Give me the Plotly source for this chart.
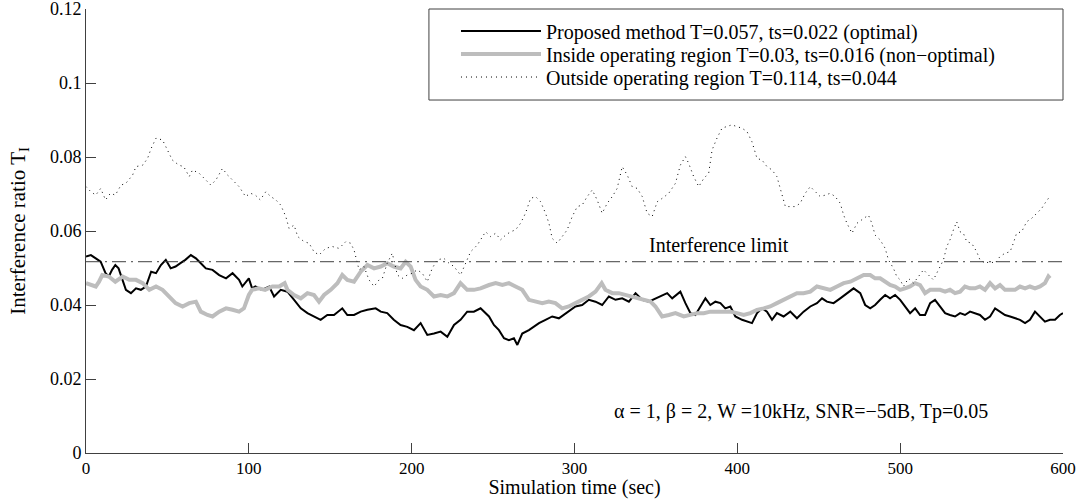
import plotly.graph_objects as go

# Proposed method (black)
prop_x = [0, 3, 6, 9, 12, 14, 16, 18, 20, 22.5, 24.5, 27.6, 30.7, 33.7, 36.8, 40, 43, 46, 49, 52,
          55, 58, 61, 64.4, 67.5, 70.5, 73.6, 77.7, 81.8, 86, 90, 94, 96, 100, 102, 104, 108, 112.5,
          115.5, 119.6, 123.7, 127.8, 131.9, 136, 140, 144.1, 148.2, 152.3, 157.4, 160.5, 164.6,
          168.7, 172.8, 177.9, 181, 185, 189, 193.2, 197.3, 201.4, 205.5, 209.6, 213.7, 217.8,
          221.9, 226, 230, 234.1, 238.2, 242.3, 247.5, 250.5, 253.6, 256.7, 259.7, 262.8, 264.9,
          267.9, 272, 275.1, 278.2, 282.2, 286.3, 290.4, 293.5, 296.6, 300.6, 304.7, 308.8, 312.9,
          317, 321.1, 325.2, 329.3, 333.4, 337.5, 341.5, 345.6, 349.7, 353.8, 356.9, 360, 365,
          368.1, 371.2, 374.2, 377.3, 380.4, 383.4, 386.5, 389.6, 392.6, 395.7, 398.8, 402.9, 406,
          409, 412.1, 415.2, 418.2, 421.3, 424.3, 428.4, 432.5, 436.6, 440.7, 444.8, 448.9, 452,
          455, 459.1, 463.2, 467.3, 471.4, 475.5, 478.5, 481.6, 484.6, 487.7, 490.8, 493.8, 496.9,
          500, 503, 506.1, 509.2, 512.2, 515.3, 518.4, 521.4, 524.5, 527.6, 530.6, 533.7, 536.8,
          539.8, 542.9, 546, 549, 552.1, 555.2, 558.3, 561.3, 564.4, 567.5, 570.5, 573.6, 576.7,
          579.7, 582.8, 585.9, 588.9, 592, 595.1, 598.1, 600]
prop_y = [0.0531, 0.0535, 0.0526, 0.0517, 0.0486, 0.0477, 0.0495, 0.0508, 0.0499, 0.0468, 0.0441,
          0.0432, 0.0445, 0.0441, 0.0450, 0.0490, 0.0486, 0.0508, 0.0522, 0.0499, 0.0504, 0.0513,
          0.0522, 0.0535, 0.0526, 0.0513, 0.0499, 0.0495, 0.0481, 0.0472, 0.0486, 0.0468, 0.0450,
          0.0472, 0.0445, 0.0450, 0.0441, 0.0450, 0.0423, 0.0441, 0.0436, 0.0414, 0.0391, 0.0378,
          0.0369, 0.0360, 0.0373, 0.0373, 0.0391, 0.0373, 0.0373, 0.0382, 0.0387, 0.0391, 0.0382,
          0.0378, 0.0360, 0.0346, 0.0341, 0.0332, 0.0351, 0.0319, 0.0323, 0.0328, 0.0314, 0.0346,
          0.0360, 0.0382, 0.0382, 0.0391, 0.0369, 0.0346, 0.0332, 0.0310, 0.0305, 0.0310, 0.0292,
          0.0323, 0.0332, 0.0341, 0.0351, 0.0360, 0.0369, 0.0364, 0.0373, 0.0382, 0.0396, 0.0400,
          0.0414, 0.0409, 0.0400, 0.0423, 0.0414, 0.0418, 0.0409, 0.0432, 0.0414, 0.0409, 0.0418,
          0.0427, 0.0432, 0.0418, 0.0436, 0.0405, 0.0378, 0.0373, 0.0396, 0.0418, 0.0400, 0.0409,
          0.0405, 0.0391, 0.0396, 0.0369, 0.0360, 0.0355, 0.0351, 0.0378, 0.0391, 0.0382, 0.0360,
          0.0378, 0.0369, 0.0382, 0.0364, 0.0382, 0.0396, 0.0405, 0.0418, 0.0409, 0.0405, 0.0418,
          0.0432, 0.0445, 0.0432, 0.0400, 0.0391, 0.0400, 0.0414, 0.0427, 0.0418, 0.0427, 0.0414,
          0.0396, 0.0378, 0.0391, 0.0373, 0.0373, 0.0405, 0.0414, 0.0396, 0.0378, 0.0373, 0.0369,
          0.0378, 0.0373, 0.0382, 0.0378, 0.0373, 0.0360, 0.0369, 0.0391, 0.0382, 0.0373, 0.0369,
          0.0364, 0.0360, 0.0351, 0.0360, 0.0382, 0.0369, 0.0355, 0.0360, 0.0360, 0.0373, 0.0378]

# Inside operating region (grey)
ins_x = [0, 3, 6, 8, 10, 14, 18, 22.5, 26.6, 30.7, 34.8, 38.9, 43, 47, 51, 55, 59.3, 63.4, 67.5,
         70.5, 74.6, 77.7, 81.8, 86, 90, 94, 97, 100, 102, 106, 110, 114.5, 118.6, 122, 123.7,
         127.8, 131.9, 136, 140, 143.1, 146.2, 150.3, 154.4, 157.4, 160.5, 164.6, 168.7, 172.8,
         176.9, 181, 185, 189, 193.2, 196.3, 199.4, 202.4, 205.5, 209.6, 213.7, 217.8, 221.9, 226,
         230, 234.1, 238.2, 242.3, 247.5, 251.6, 255.7, 259.7, 263.8, 267.9, 272, 276.1, 280.2,
         284.2, 288.3, 292.4, 296.5, 300.6, 304.7, 308.8, 312.9, 316.7, 319, 323.2, 327.2, 331.3,
         335.4, 339.5, 343.6, 346.7, 349.7, 353.8, 357.9, 362, 367.1, 371.2, 375.3, 379.4, 383.4,
         387.5, 391.6, 395.7, 399.8, 403.9, 408, 412.1, 416.2, 420.2, 424.3, 428.4, 432.5, 436.6,
         440.7, 444.8, 448.9, 453, 457.1, 461.2, 465.3, 469.4, 473.5, 477.6, 481.6, 484.6, 487.7,
         490.8, 493.8, 496.9, 500, 503, 506.1, 509.2, 512.2, 515.3, 518.4, 521.4, 524.5, 527.6,
         530.6, 533.7, 536.8, 539.8, 542.9, 546, 549, 552.1, 555.2, 558.3, 561.3, 564.4, 567.5,
         570.5, 573.6, 576.7, 579.7, 582.8, 585.9, 588.9, 591, 592]
ins_y = [0.0459, 0.0454, 0.0450, 0.0463, 0.0481, 0.0477, 0.0463, 0.0477, 0.0468, 0.0468, 0.0459,
         0.0441, 0.0450, 0.0441, 0.0423, 0.0405, 0.0396, 0.0405, 0.0409, 0.0382, 0.0373, 0.0369,
         0.0382, 0.0391, 0.0387, 0.0382, 0.0391, 0.0427, 0.0441, 0.0445, 0.0441, 0.0450, 0.0450,
         0.0459, 0.0441, 0.0427, 0.0418, 0.0432, 0.0427, 0.0409, 0.0427, 0.0441, 0.0459, 0.0481,
         0.0468, 0.0463, 0.0490, 0.0508, 0.0499, 0.0504, 0.0513, 0.0504, 0.0499, 0.0517, 0.0504,
         0.0468, 0.0450, 0.0441, 0.0423, 0.0427, 0.0423, 0.0432, 0.0459, 0.0441, 0.0441, 0.0445,
         0.0454, 0.0459, 0.0454, 0.0459, 0.0450, 0.0441, 0.0414, 0.0409, 0.0405, 0.0409, 0.0405,
         0.0391, 0.0396, 0.0405, 0.0414, 0.0423, 0.0436, 0.0459, 0.0441, 0.0432, 0.0432, 0.0427,
         0.0423, 0.0418, 0.0414, 0.0409, 0.0396, 0.0369, 0.0373, 0.0378, 0.0369, 0.0373, 0.0378,
         0.0378, 0.0382, 0.0382, 0.0382, 0.0382, 0.0378, 0.0373, 0.0378, 0.0387, 0.0391, 0.0396,
         0.0405, 0.0414, 0.0423, 0.0432, 0.0432, 0.0436, 0.0450, 0.0445, 0.0441, 0.0450, 0.0459,
         0.0463, 0.0472, 0.0481, 0.0481, 0.0472, 0.0472, 0.0463, 0.0454, 0.0450, 0.0441, 0.0445,
         0.0450, 0.0459, 0.0454, 0.0432, 0.0441, 0.0441, 0.0441, 0.0436, 0.0441, 0.0432, 0.0436,
         0.0450, 0.0445, 0.0445, 0.0450, 0.0441, 0.0459, 0.0445, 0.0454, 0.0441, 0.0441, 0.0441,
         0.0450, 0.0445, 0.0450, 0.0445, 0.0450, 0.0459, 0.0477, 0.0472]

# Outside operating region (dotted)
out_x = [0, 3, 6, 9, 12, 15, 18, 21.5, 24.5, 28.6, 30.7, 34.8, 37.8, 40, 43, 47, 50, 53, 57, 60,
         63.4, 65.4, 69.5, 73.6, 76.7, 79.8, 83.8, 87, 90, 94, 98, 101, 104, 107, 110.4, 113.5,
         116.6, 119.6, 122.7, 124.7, 127.8, 130, 134, 137, 140, 143.1, 147.2, 151.3, 155.4, 159.5,
         162.5, 164.6, 167.7, 170.7, 173.8, 176.9, 180, 182, 185, 188.1, 191.2, 194.2, 197.3,
         200.4, 203.4, 206.5, 209.6, 212.6, 215.7, 219.8, 222.9, 226, 230, 233.1, 236.2, 240.3,
         242.4, 245.4, 248.5, 251.6, 254.6, 257.7, 260.8, 263.8, 266.9, 269.9, 273, 276.1, 279.2,
         282.2, 284.3, 286.3, 289.4, 292.5, 295.5, 298.6, 301.7, 304.7, 307.8, 310.9, 313.9, 317,
         320.1, 323.2, 326.2, 329.3, 332.4, 335.4, 338.5, 341.6, 344.6, 347.7, 350.8, 353.8,
         357.9, 362, 365, 368.1, 370.1, 373.2, 376.3, 379.4, 382.4, 384.5, 387.5, 390.6, 393.7,
         396.7, 399.8, 402.8, 405.9, 409, 412.1, 415.1, 418.2, 421.3, 424.3, 426.4, 429.5, 432.5,
         435.6, 438.6, 441.7, 444.8, 447.8, 450.9, 454, 457.1, 460.1, 463.2, 465.3, 467.3, 470.4,
         473.5, 477.6, 480.5, 482.6, 484.6, 487.7, 490.8, 492.8, 495.9, 497.9, 500, 502, 505.1,
         508.2, 511.2, 514.3, 517.4, 520.4, 523.5, 526.6, 528.6, 530.6, 532.7, 534.7, 536.8,
         538.8, 540.9, 543.9, 547, 549, 552.1, 555.2, 558.3, 561.3, 564.4, 567.5, 569.5, 571.5,
         574.6, 577.7, 580.7, 583.8, 586.9, 588.9, 591]
out_y = [0.0720, 0.0706, 0.0697, 0.0715, 0.0684, 0.0702, 0.0697, 0.0724, 0.0729, 0.0751, 0.0774,
         0.0778, 0.0796, 0.0823, 0.0851, 0.0846, 0.0819, 0.0792, 0.0778, 0.0774, 0.0747, 0.0765,
         0.0756, 0.0738, 0.0724, 0.0738, 0.0769, 0.0751, 0.0738, 0.0720, 0.0693, 0.0702, 0.0697,
         0.0684, 0.0706, 0.0693, 0.0684, 0.0670, 0.0639, 0.0607, 0.0616, 0.0585, 0.0571, 0.0567,
         0.0544, 0.0535, 0.0553, 0.0558, 0.0553, 0.0571, 0.0567, 0.0549, 0.0495, 0.0504, 0.0468,
         0.0450, 0.0468, 0.0472, 0.0513, 0.0540, 0.0481, 0.0472, 0.0481, 0.0486, 0.0495, 0.0486,
         0.0463, 0.0499, 0.0522, 0.0526, 0.0513, 0.0504, 0.0481, 0.0513, 0.0544, 0.0562, 0.0576,
         0.0598, 0.0585, 0.0594, 0.0576, 0.0589, 0.0598, 0.0603, 0.0621, 0.0648, 0.0688, 0.0693,
         0.0679, 0.0648, 0.0621, 0.0580, 0.0567, 0.0585, 0.0603, 0.0639, 0.0666, 0.0670, 0.0693,
         0.0711, 0.0684, 0.0648, 0.0675, 0.0693, 0.0715, 0.0774, 0.0751, 0.0720, 0.0715, 0.0693,
         0.0648, 0.0639, 0.0679, 0.0688, 0.0702, 0.0729, 0.0778, 0.0801, 0.0783, 0.0747, 0.0720,
         0.0742, 0.0756, 0.0819, 0.0851, 0.0878, 0.0882, 0.0887, 0.0882, 0.0878, 0.0869, 0.0841,
         0.0796, 0.0792, 0.0774, 0.0765, 0.0747, 0.0715, 0.0666, 0.0666, 0.0666, 0.0675, 0.0702,
         0.0720, 0.0706, 0.0693, 0.0697, 0.0702, 0.0693, 0.0675, 0.0643, 0.0621, 0.0594, 0.0621,
         0.0634, 0.0643, 0.0621, 0.0589, 0.0576, 0.0553, 0.0522, 0.0499, 0.0477, 0.0468, 0.0450,
         0.0472, 0.0459, 0.0477, 0.0495, 0.0481, 0.0468, 0.0495, 0.0522, 0.0558, 0.0576, 0.0603,
         0.0625, 0.0598, 0.0594, 0.0571, 0.0567, 0.0544, 0.0522, 0.0513, 0.0517, 0.0513, 0.0531,
         0.0540, 0.0544, 0.0567, 0.0594, 0.0598, 0.0625, 0.0634, 0.0648, 0.0661, 0.0675, 0.0688]

interference_limit = 0.0517

y_ticks = [0, 0.02, 0.04, 0.06, 0.08, 0.1, 0.12]
y_tick_text = ["0", "0.02", "0.04", "0.06", "0.08", "0.1", "0.12"]
x_ticks = [0, 100, 200, 300, 400, 500, 600]

FONT = "Liberation Serif"
AXIS_COLOR = "#404040"

fig = go.Figure()

fig.add_trace(go.Scatter(
    x=prop_x, y=prop_y, mode="lines", legend="legend",
    name="Proposed method T=0.057, ts=0.022 (optimal)",
    line=dict(color="black", width=2)
))
fig.add_trace(go.Scatter(
    x=ins_x, y=ins_y, mode="lines", legend="legend2",
    name="Inside operating region T=0.03, ts=0.016 (non\u2212optimal)",
    line=dict(color="#bdbdbd", width=4)
))
fig.add_trace(go.Scatter(
    x=out_x, y=out_y, mode="lines", legend="legend3",
    name="Outside operating region T=0.114, ts=0.044",
    line=dict(color="black", width=1, dash="1px,4px")
))

# interference limit line
fig.add_hline(y=interference_limit, line_width=1, line_color="#404040",
              line_dash="14px,5px,2px,5px")

fig.add_annotation(x=389, y=0.0562, text="Interference limit", showarrow=False,
                   font=dict(family=FONT, size=20, color="black"))
fig.add_annotation(x=555, y=0.0112, text="\u03b1 = 1, \u03b2 = 2, W =10kHz, SNR=\u22125dB, Tp=0.05",
                   xanchor="right", showarrow=False,
                   font=dict(family=FONT, size=20, color="black"))

# legend frame
fig.add_shape(type="rect", xref="paper", yref="paper", x0=0.351, x1=1.0, y0=0.795, y1=1.0,
              line=dict(color="#404040", width=1), fillcolor="white", layer="below")

leg_style = dict(x=0.3787, xanchor="left", yanchor="middle", bgcolor="rgba(0,0,0,0)",
                 borderwidth=0, itemwidth=80, font=dict(family=FONT, size=20))

fig.update_layout(
    width=1081, height=499,
    margin=dict(l=86, r=18, t=9, b=46),
    paper_bgcolor="white", plot_bgcolor="rgba(0,0,0,0)",
    font=dict(family=FONT, size=18, color="black"),
    showlegend=True,
    legend=dict(y=0.9505, **leg_style),
    legend2=dict(y=0.8986, **leg_style),
    legend3=dict(y=0.8468, **leg_style),
    xaxis=dict(range=[0, 600], tickvals=x_ticks, ticks="inside", ticklen=10,
               tickcolor=AXIS_COLOR, showline=True, linecolor=AXIS_COLOR, linewidth=1,
               showgrid=False, zeroline=False, tickfont=dict(size=17), ticklabelstandoff=0,
               ticklabeloverflow="allow", automargin=False,
               title=dict(text="Simulation time (sec)", font=dict(size=20), standoff=11)),
    yaxis=dict(range=[0, 0.12], tickvals=y_ticks, ticktext=y_tick_text, ticks="inside",
               ticklen=10, tickcolor=AXIS_COLOR, showline=True, linecolor=AXIS_COLOR,
               linewidth=1, showgrid=False, zeroline=False, tickfont=dict(size=18),
               ticklabeloverflow="allow", automargin=False,
               title=dict(text="Interference ratio T<sub>I</sub>", font=dict(size=21),
                          standoff=18)),
)

fig.write_html("out.html", config={"displayModeBar": False},
               post_script="document.body.style.margin='0';")
